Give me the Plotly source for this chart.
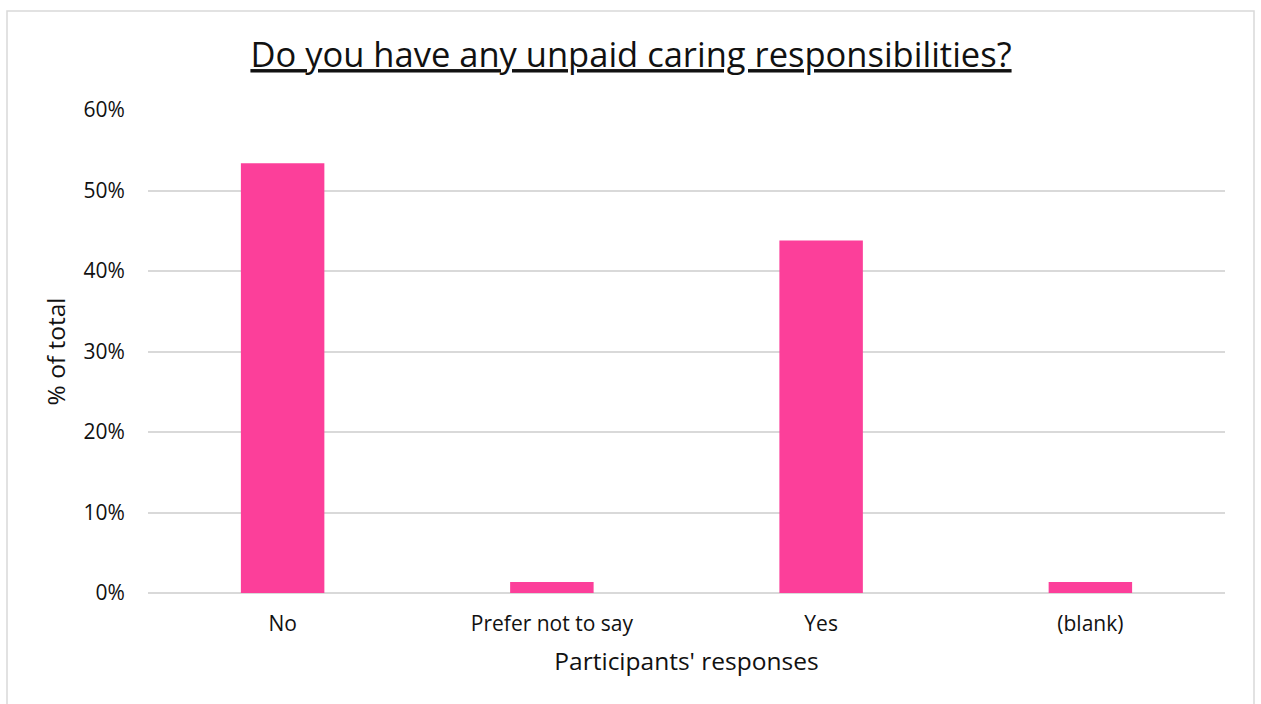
import plotly.graph_objects as go

categories = ["No", "Prefer not to say", "Yes", "(blank)"]
values = [0.534, 0.0137, 0.438, 0.0137]
y_ticks = [0, 0.1, 0.2, 0.3, 0.4, 0.5, 0.6]
y_tick_labels = ["0%", "10%", "20%", "30%", "40%", "50%", "60%"]

FONT = "'Open Sans', Roboto, Arial, sans-serif"
TXT = "#111111"

W, H = 1261, 704
L, R, T, B = 148, 36, 110, 111
PW, PH = W - L - R, H - T - B

fig = go.Figure(
    go.Bar(x=categories, y=values, marker=dict(color="#FC3F9A", line=dict(width=0)))
)

fig.update_layout(
    width=W, height=H,
    margin=dict(l=L, r=R, t=T, b=B),
    paper_bgcolor="white", plot_bgcolor="white",
    bargap=0.69,
    showlegend=False,
    font=dict(family=FONT, color=TXT, size=17),
    title=dict(
        text="<u>Do you have any unpaid caring responsibilities?</u>",
        x=631 / W, xref="container", xanchor="center",
        y=1 - 55 / H, yref="container", yanchor="middle",
        font=dict(family=FONT, size=34.5, color=TXT),
    ),
    xaxis=dict(
        title=dict(text="Participants' responses", font=dict(size=24.5, color=TXT), standoff=16),
        showgrid=False, showline=False, zeroline=False,
        ticks="outside", ticklen=12, tickcolor="rgba(0,0,0,0)",
        tickfont=dict(size=21, color=TXT),
    ),
    yaxis=dict(
        title=dict(text="% of total", font=dict(size=24.5, color=TXT), standoff=10),
        range=[0, 0.6],
        tickvals=y_ticks, ticktext=y_tick_labels,
        showgrid=True, gridcolor="#d9d9d9", gridwidth=1.5,
        zeroline=True, zerolinecolor="#d9d9d9", zerolinewidth=1.5,
        showline=False,
        ticks="outside", ticklen=18, tickcolor="rgba(0,0,0,0)",
        tickfont=dict(size=21, color=TXT),
    ),
    shapes=[
        dict(type="rect", xref="paper", yref="paper",
             x0=(7 - L) / PW, x1=(1254 - L) / PW,
             y0=(H - B - 720) / PH, y1=(H - B - 11) / PH,
             line=dict(color="#d9d9d9", width=1.5), fillcolor="rgba(0,0,0,0)",
             layer="below"),
    ],
)

fig.write_html(
    "out.html",
    config={"displayModeBar": False},
    post_script="document.body.style.margin='0';",
)
